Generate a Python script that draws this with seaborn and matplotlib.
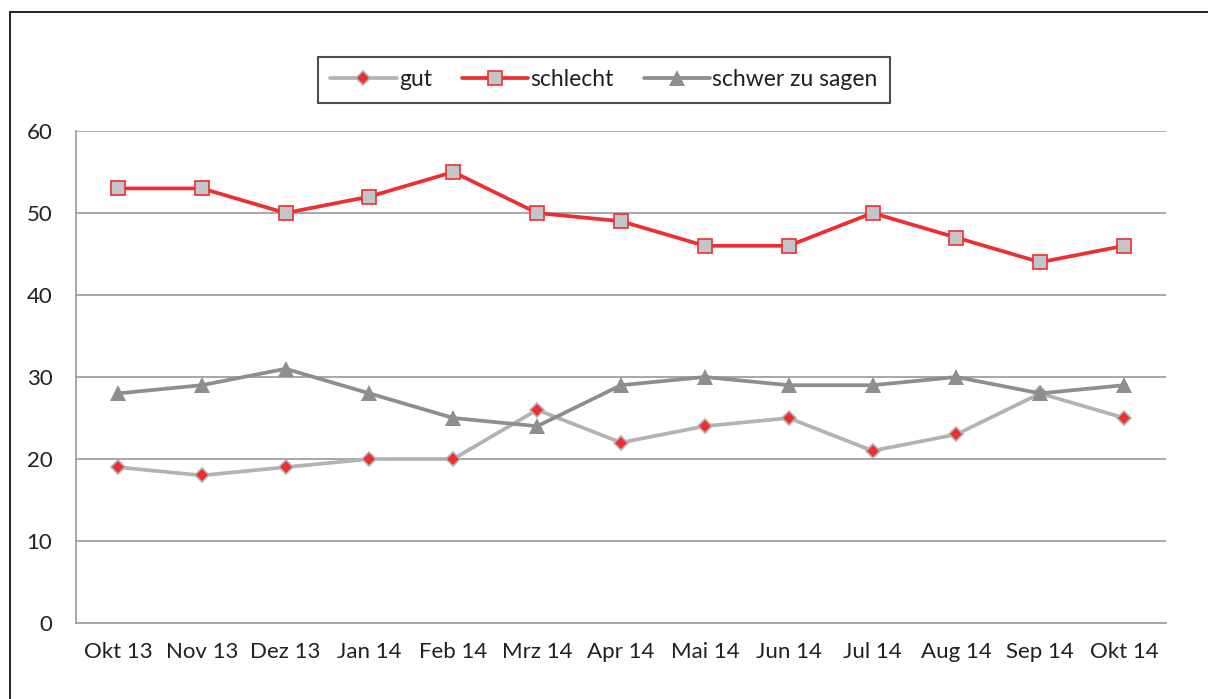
import numpy as np
import pandas as pd
import seaborn as sns
import matplotlib.pyplot as plt
from matplotlib.lines import Line2D

months = ["Okt 13", "Nov 13", "Dez 13", "Jan 14", "Feb 14", "Mrz 14", "Apr 14",
          "Mai 14", "Jun 14", "Jul 14", "Aug 14", "Sep 14", "Okt 14"]
gut = [19, 18, 19, 20, 20, 26, 22, 24, 25, 21, 23, 28, 25]
schlecht = [53, 53, 50, 52, 55, 50, 49, 46, 46, 50, 47, 44, 46]
schwer = [28, 29, 31, 28, 25, 24, 29, 30, 29, 29, 30, 28, 29]

sns.set_style("white")
plt.rcParams["font.family"] = ["Lato", "DejaVu Sans"]

fig = plt.figure(figsize=(12.08, 6.99), dpi=100)
ax = fig.add_axes([76 / 1208, 1 - 623 / 699, 1090 / 1208, 492 / 699])

# draw order: gut, schwer, schlecht on top
sns.lineplot(x=months, y=gut, ax=ax, sort=False, color="#b3b3b5", linewidth=2.7,
             marker="D", markersize=7.5, markerfacecolor="#ee2f2f",
             markeredgecolor="#b3b3b5", markeredgewidth=1.2, label="gut", zorder=3)
sns.lineplot(x=months, y=schlecht, ax=ax, sort=False, color="#ec3031", linewidth=2.7,
             marker="s", markersize=10, markerfacecolor="#c4c5c7",
             markeredgecolor="#ec3031", markeredgewidth=1.2, label="schlecht", zorder=4)
sns.lineplot(x=months, y=schwer, ax=ax, sort=False, color="#8e8e91", linewidth=2.7,
             marker="^", markersize=11.5, markerfacecolor="#8e8e91",
             markeredgecolor="#8e8e91", markeredgewidth=0, label="schwer zu sagen", zorder=3)

ax.set_xlim(-0.5, len(months) - 0.5)
ax.set_ylim(0, 60)
ax.set_yticks(range(0, 61, 10))
ax.yaxis.grid(True, color="#a7a7a9", linewidth=1.4)
ax.set_axisbelow(True)
for s in ["top", "right"]:
    ax.spines[s].set_visible(False)
for s in ["left", "bottom"]:
    ax.spines[s].set_color("#a7a7a9")
    ax.spines[s].set_linewidth(1.4)

ax.set_xticks(np.arange(-0.5, len(months), 1), minor=True)
ax.tick_params(axis="x", which="major", length=0, pad=14, labelsize=16, labelcolor="#231f20")
ax.tick_params(axis="x", which="minor", length=7, width=1.4, color="#a7a7a9", direction="out")
ax.tick_params(axis="y", length=7, width=1.4, color="#a7a7a9", direction="out",
               pad=10, labelsize=16, labelcolor="#231f20")

h, l = ax.get_legend_handles_labels()
ax.get_legend().remove()
leg = fig.legend(h, ["gut", "schlecht", "schwer zu sagen"], ncol=3, loc="center",
                 bbox_to_anchor=(604 / 1208, 1 - 80 / 699), frameon=True, fancybox=False,
                 fontsize=16.5, handlelength=2.9, handletextpad=0.1, columnspacing=1.3,
                 borderpad=0.55, borderaxespad=0)
leg.get_frame().set_edgecolor("#231f20")
leg.get_frame().set_linewidth(1.5)
for t in leg.get_texts():
    t.set_color("#231f20")

# outer frame
fig.add_artist(Line2D([10 / 1208, 10 / 1208], [0, 1 - 12 / 699], color="#231f20", linewidth=1.4))
fig.add_artist(Line2D([10 / 1208, 1], [1 - 12 / 699, 1 - 12 / 699], color="#231f20", linewidth=1.4))

fig.savefig("out.png", dpi=100)
